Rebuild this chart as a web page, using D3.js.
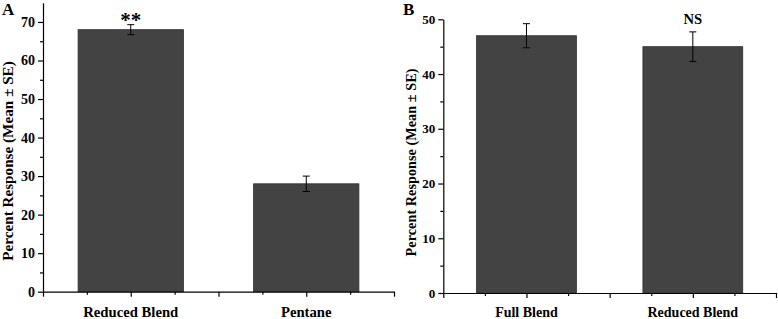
<!DOCTYPE html>
<html>
<head>
<meta charset="utf-8">
<script src="https://cdn.jsdelivr.net/npm/d3@7"></script>
<style>
  body { margin: 0; background: #fff; }
  text { font-family: "Liberation Serif", "Times New Roman", serif; }
</style>
</head>
<body>
<svg id="chart" width="778" height="319"></svg>
<script>
const panelALabels = ["Reduced Blend", "Pentane"];
const panelAMeans = [68, 28];
const panelASE = [1.3, 2.0];
const panelATicks = [0, 10, 20, 30, 40, 50, 60, 70];
const panelAMinor = [5, 15, 25, 35, 45, 55, 65];

const panelBLabels = ["Full Blend", "Reduced Blend"];
const panelBMeans = [47, 45];
const panelBSE = [2.2, 2.7];
const panelBTicks = [0, 10, 20, 30, 40, 50];
const panelBMinor = [5, 15, 25, 35, 45];

const svg = d3.select("#chart");
const barFill = "#434343";

function drawPanel(cfg) {
    const g = svg.append("g");

    const x = d3.scaleLinear().domain([0.5, 2.5]).range([cfg.left, cfg.right]);
    const y = d3.scaleLinear().domain([0, cfg.yMax]).range([cfg.bottom, cfg.top]);

    const bars = cfg.labels.map((l, i) => ({ label: l, mean: cfg.means[i], se: cfg.se[i], pos: i + 1 }));

    // bars
    g.selectAll("rect.bar")
        .data(bars)
        .enter().append("rect")
        .attr("class", "bar")
        .attr("x", d => x(d.pos - 0.3))
        .attr("y", d => y(d.mean))
        .attr("width", d => x(d.pos + 0.3) - x(d.pos - 0.3))
        .attr("height", d => y(0) - y(d.mean))
        .attr("fill", barFill)
        .attr("stroke", "#2e2e2e")
        .attr("stroke-width", 0.8);

    // error bars
    const err = g.selectAll("g.err").data(bars).enter().append("g").attr("class", "err");
    err.append("line")
        .attr("x1", d => x(d.pos)).attr("x2", d => x(d.pos))
        .attr("y1", d => y(d.mean + d.se)).attr("y2", d => y(d.mean - d.se))
        .attr("stroke", "#000").attr("stroke-width", 1);
    [1, -1].forEach(s => {
        err.append("line")
            .attr("x1", d => x(d.pos) - 3.5).attr("x2", d => x(d.pos) + 3.5)
            .attr("y1", d => y(d.mean + s * d.se)).attr("y2", d => y(d.mean + s * d.se))
            .attr("stroke", "#000").attr("stroke-width", 1);
    });

    // y axis
    const yAxis = g.append("g")
        .attr("transform", `translate(${cfg.left},0)`)
        .call(d3.axisLeft(y).tickValues(cfg.ticks).tickSize(5).tickSizeOuter(0).tickPadding(3));
    g.append("g")
        .attr("transform", `translate(${cfg.left},0)`)
        .call(d3.axisLeft(y).tickValues(cfg.minor).tickSize(3).tickFormat(""))
        .select(".domain").remove();
    yAxis.selectAll("text")
        .style("font-size", cfg.tickFont + "px")
        .style("font-weight", "bold")
        .attr("fill", "#000");

    // x axis
    g.append("g")
        .attr("transform", `translate(0,${cfg.bottom})`)
        .call(d3.axisBottom(x).tickValues([0.5, 1, 1.5, 2, 2.5]).tickSize(5).tickSizeOuter(0).tickFormat(""));
    g.append("g")
        .attr("transform", `translate(0,${cfg.bottom})`)
        .call(d3.axisBottom(x).tickValues([0.75, 1.25, 1.75, 2.25]).tickSize(3).tickFormat(""))
        .select(".domain").remove();

    g.selectAll(".domain, .tick line").attr("stroke", "#000").attr("stroke-width", 1.2);

    // category labels
    g.selectAll("text.cat")
        .data(bars)
        .enter().append("text")
        .attr("class", "cat")
        .attr("x", d => x(d.pos))
        .attr("y", 317)
        .attr("text-anchor", "middle")
        .style("font-size", cfg.catFont + "px")
        .style("font-weight", "bold")
        .text(d => d.label);

    // axis title
    g.append("text")
        .attr("transform", "rotate(-90)")
        .attr("x", -cfg.titleCy)
        .attr("y", cfg.titleX)
        .attr("text-anchor", "middle")
        .style("font-size", cfg.titleFont + "px")
        .style("font-weight", "bold")
        .text("Percent Response (Mean \u00b1 SE)");

    // panel letter
    g.append("text")
        .attr("x", cfg.letterX)
        .attr("y", 15)
        .style("font-size", "17px")
        .style("font-weight", "bold")
        .text(cfg.letter);

    // significance mark
    const sb = bars[cfg.sigIndex];
    g.append("text")
        .attr("x", x(sb.pos))
        .attr("y", y(sb.mean + sb.se) + cfg.sigOffset)
        .attr("text-anchor", "middle")
        .style("font-size", cfg.sigFont + "px")
        .style("font-weight", "bold")
        .text(cfg.sig);
}

drawPanel({
    labels: panelALabels, means: panelAMeans, se: panelASE,
    ticks: panelATicks, minor: panelAMinor, yMax: 75,
    left: 43, right: 394, top: 2.7, bottom: 291.7,
    tickFont: 14, catFont: 14.7, titleFont: 15.2, titleCy: 161, titleX: 12.5,
    letter: "A", letterX: 2,
    sig: "**", sigIndex: 0, sigOffset: 2, sigFont: 21
});

drawPanel({
    labels: panelBLabels, means: panelBMeans, se: panelBSE,
    ticks: panelBTicks, minor: panelBMinor, yMax: 50,
    left: 443.3, right: 776, top: 19.3, bottom: 293,
    tickFont: 13, catFont: 14, titleFont: 14.3, titleCy: 162.5, titleX: 416,
    letter: "B", letterX: 403,
    sig: "NS", sigIndex: 1, sigOffset: -8, sigFont: 14.6
});
</script>
</body>
</html>
